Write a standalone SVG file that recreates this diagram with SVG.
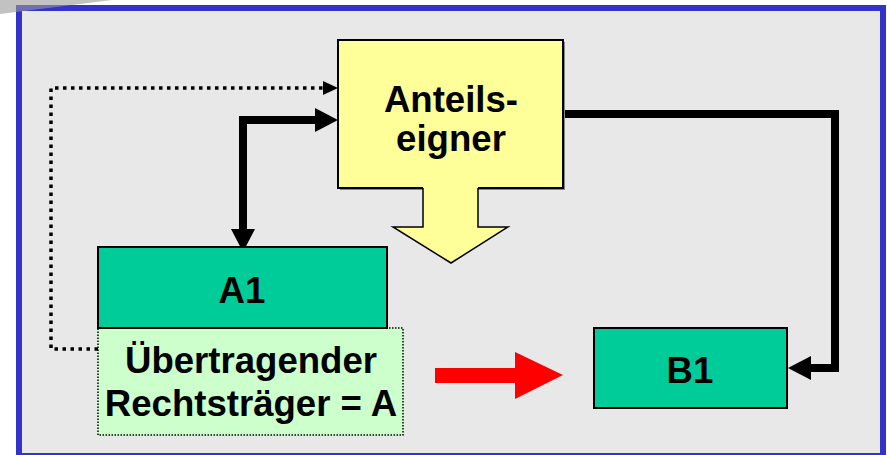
<svg xmlns="http://www.w3.org/2000/svg" width="887" height="455" viewBox="0 0 887 455">
  <defs>
    <style>
      .label { font-family: "Liberation Sans", Arial, sans-serif; font-weight: bold; font-size: 36.6px; fill: #000; text-anchor: middle; }
      .entity { fill: #00cc99; stroke: #000; stroke-width: 2; }
      .thick { fill: none; stroke: #000; stroke-width: 8; }
      .dotted { fill: none; stroke: #000; stroke-width: 3.5; stroke-dasharray: 3.5 4.5; }
    </style>
    <marker id="headThick" markerUnits="userSpaceOnUse" markerWidth="24" markerHeight="24" refX="8" refY="12" orient="auto-start-reverse">
      <path d="M0,0 L23,12 L0,24 z" fill="#000"/>
    </marker>
    <marker id="headThin" markerUnits="userSpaceOnUse" markerWidth="16" markerHeight="14" refX="7" refY="7" orient="auto">
      <path d="M0,0 L15,7 L0,14 z" fill="#000"/>
    </marker>
  </defs>

  <!-- slide background and frame -->
  <rect x="19" y="8" width="864" height="448" fill="#e8e8e8" stroke="#3333cc" stroke-width="6"/>
  <polygon points="0,0 112,0 0,14" fill="#999999" fill-opacity="0.6"/>

  <!-- connectors -->
  <g id="connectors">
    <path class="dotted" d="M98,349 H51 V88 H330" marker-end="url(#headThin)"/>
    <path class="thick" d="M243,237 V120 H323" marker-start="url(#headThick)" marker-end="url(#headThick)"/>
    <path class="thick" d="M563,114 H835 V368 H803" marker-end="url(#headThick)"/>
    <polygon points="435,368 515,368 515,352 563,375 515,399 515,383 435,383" fill="#ff0000"/>
  </g>

  <!-- shareholders -->
  <g id="anteilseigner">
    <rect x="340" y="42" width="225" height="148" fill="#888888"/>
    <rect x="338" y="40" width="225" height="148" fill="#ffff99" stroke="#000" stroke-width="2"/>
    <polygon points="423,187 423,227 393,227 451,263 508,227 478,227 478,187" fill="#ffff99"/>
    <path d="M423,188 V227 H393 L451,263 L508,227 H478 V188" fill="none" stroke="#000" stroke-width="1.5"/>
    <text class="label" x="451" y="112">Anteils-</text>
    <text class="label" x="451" y="151">eigner</text>
  </g>

  <!-- transferring legal entity -->
  <g id="uebertragender">
    <rect x="98" y="328" width="305" height="107" fill="#ccffcc" stroke="#000" stroke-width="1.5" stroke-dasharray="1.5 1.5"/>
    <text class="label" x="251" y="373">Übertragender</text>
    <text class="label" x="251" y="416">Rechtsträger = A</text>
  </g>

  <g id="a1">
    <rect class="entity" x="98" y="247" width="289" height="81"/>
    <text class="label" x="242" y="303">A1</text>
  </g>

  <g id="b1">
    <rect class="entity" x="594" y="328" width="193" height="80"/>
    <text class="label" x="690" y="383">B1</text>
  </g>
</svg>
